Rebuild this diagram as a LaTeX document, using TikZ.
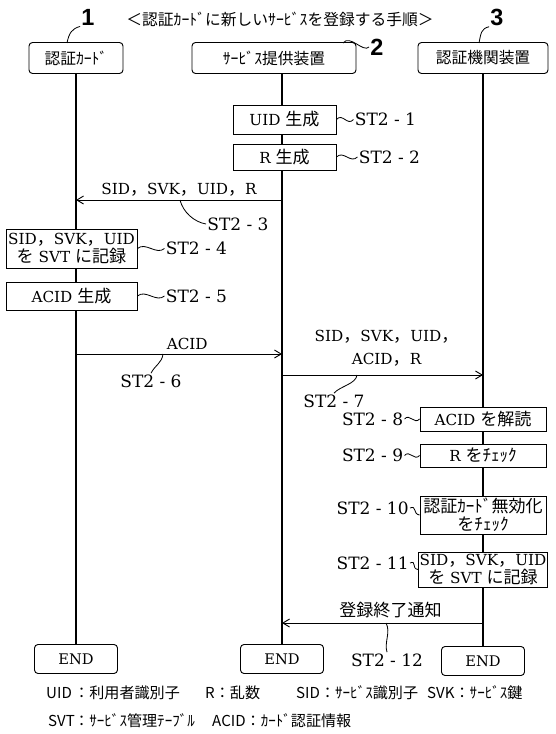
\documentclass[tikz,border=0pt]{standalone}
\usepackage{fontspec}
\setmainfont{DejaVu Serif}
\setsansfont{Liberation Sans}
\newfontfamily\jp[Scale=1.12]{Noto Sans CJK JP}
\usetikzlibrary{arrows.meta,positioning,backgrounds}
\newcommand{\J}[1]{{\jp #1}}

\begin{document}
\begin{tikzpicture}[x=0.03cm,y=-0.03cm,
  head/.style={draw,line width=0.8pt,rounded corners=3pt,fill=white,align=center,minimum height=0.93cm,inner sep=1pt,font=\fontsize{12}{14}\jp},
  stepbox/.style={draw,line width=0.8pt,fill=white,align=center,inner sep=1pt,font=\fontsize{13}{15}\selectfont},
  endbox/.style={draw,line width=0.8pt,rounded corners=3pt,fill=white,minimum width=2.49cm,minimum height=0.87cm,font=\fontsize{12.5}{14}\selectfont},
  st/.style={inner sep=1pt,font=\fontsize{14.5}{16}\selectfont},
  num/.style={inner sep=1pt,font=\fontsize{20}{20}\sffamily\bfseries},
  lbl/.style={inner sep=1pt,align=center,font=\fontsize{13}{16}\selectfont},
  leg/.style={inner sep=0pt,anchor=west,font=\fontsize{11.5}{13}\jp},
  life/.style={line width=1.2pt},
  msg/.style={-{Straight Barb[length=2mm,width=2.4mm]},line width=0.8pt},
  sq/.style={line width=0.7pt}]
\useasboundingbox (0,0) rectangle (555,734);
% title and device numbers
\node[font=\fontsize{12}{14}\jp] (title) at (280,19) {＜認証ｶｰﾄﾞに新しいｻｰﾋﾞｽを登録する手順＞};
\node[num] (n1) at (88,17) {1};
\node[num] (n2) at (377,47) {2};
\node[num] (n3) at (497,17) {3};
% lifeline heads
\node[head,minimum width=2.82cm] (card) at (76,58) {認証ｶｰﾄﾞ};
\node[head,minimum width=4.92cm] (svc) at (274,58) {ｻｰﾋﾞｽ提供装置};
\node[head,minimum width=3.9cm] (auth) at (483,58) {認証機関装置};
\coordinate (t1) at (67,43); \coordinate (t2) at (343,43); \coordinate (t3) at (479,43);
\draw[sq] (n1.south west) .. controls +(-8,2) and +(2,-10) .. (t1);
\draw[sq] (t2) .. controls +(7,-9) and +(-6,6) .. (n2.west);
\draw[sq] (n3.south west) .. controls +(-8,2) and +(2,-10) .. (t3);
% steps
\node[stepbox,minimum width=3.09cm,minimum height=0.87cm] (a1) at (284.5,119.5) {UID \J{生成}};
\node[stepbox,minimum width=3.09cm,minimum height=0.78cm] (a2) at (284.5,157) {R \J{生成}};
\node[stepbox,minimum width=3.93cm,minimum height=1.17cm] (c4) at (71.5,248.5) {SID\J{，}SVK\J{，}UID\\\J{を} SVT \J{に記録}};
\node[stepbox,minimum width=3.93cm,minimum height=0.84cm] (c5) at (71.5,296) {ACID \J{生成}};
\node[stepbox,minimum width=3.78cm,minimum height=0.72cm] (b8) at (483,419) {ACID \J{を解読}};
\node[stepbox,minimum width=3.78cm,minimum height=0.69cm] (b9) at (483,455.5) {R \J{をﾁｪｯｸ}};
\node[stepbox,minimum width=3.78cm,minimum height=1.14cm] (b10) at (483,515) {\J{認証ｶｰﾄﾞ無効化}\\\J{をﾁｪｯｸ}};
\node[stepbox,minimum width=3.78cm,minimum height=1.05cm] (b11) at (483,569.5) {SID\J{，}SVK\J{，}UID\\\J{を} SVT \J{に記録}};
\node[endbox] (e1) at (76,659) {END};
\node[endbox] (e2) at (282,659) {END};
\node[endbox] (e3) at (483,661) {END};
\begin{scope}[on background layer]
\draw[life] (card) -- (e1);
\draw[life] (svc.south -| e2) -- (e2);
\draw[life] (auth) -- (e3);
\end{scope}
% messages
\coordinate (m3a) at (282,200); \coordinate (m3b) at (76,200); \coordinate (k3) at (180,200);
\coordinate (m6a) at (76,354); \coordinate (m6b) at (282,354); \coordinate (k6) at (163,354);
\coordinate (m7a) at (282,375); \coordinate (m7b) at (483,375); \coordinate (k7) at (357,375);
\coordinate (m12a) at (483,623); \coordinate (m12b) at (282,623); \coordinate (k12) at (386,623);
\draw[msg] (m3a) -- node[lbl,above=2pt] {SID\J{，}SVK\J{，}UID\J{，}R} (m3b);
\draw[msg] (m6a) -- node[lbl,above=2pt,pos=0.54] {ACID} (m6b);
\draw[msg] (m7a) -- node[lbl,above=6pt,pos=0.52,font=\fontsize{13}{20}\selectfont] {SID\J{，}SVK\J{，}UID\J{，}\\ACID\J{，}R} (m7b);
\draw[msg] (m12a) -- node[lbl,above=3pt,pos=0.46] {\J{登録終了通知}} (m12b);
% step labels
\node[st,right=0.51cm of a1] (s1) {ST2 - 1};
\node[st,right=0.63cm of a2] (s2) {ST2 - 2};
\node[st,anchor=west] (s3) at (206,224) {ST2 - 3};
\node[st,right=0.81cm of c4] (s4) {ST2 - 4};
\node[st,right=0.81cm of c5] (s5) {ST2 - 5};
\node[st] (s6) at (151,381) {ST2 - 6};
\node[st] (s7) at (334,401) {ST2 - 7};
\node[st,left=0.45cm of b8] (s8) {ST2 - 8};
\node[st,left=0.45cm of b9] (s9) {ST2 - 9};
\node[st,anchor=east] (s10) at (410,508) {ST2 - 10};
\node[st,anchor=east] (s11) at (410,563) {ST2 - 11};
\node[st] (s12) at (387,660) {ST2 - 12};
\draw[sq] (a1.east) .. controls +(6,-7) and +(-6,7) .. (s1.west);
\draw[sq] (a2.east) .. controls +(7,-7) and +(-7,7) .. (s2.west);
\draw[sq] (k3) .. controls +(3,12) and +(-12,-2) .. (s3.west);
\draw[sq] (c4.east) .. controls +(8,-7) and +(-8,7) .. (s4.west);
\draw[sq] (c5.east) .. controls +(8,-7) and +(-8,7) .. (s5.west);
\draw[sq] (k6) .. controls +(-1,9) and +(4,-8) .. (s6.north);
\draw[sq] (k7) .. controls +(-1,9) and +(6,-7) .. (s7.north);
\draw[sq] (s8.east) .. controls +(5,-6) and +(-5,6) .. (b8.west);
\draw[sq] (s9.east) .. controls +(5,-6) and +(-5,6) .. (b9.west);
\draw[sq] (s10.east) .. controls +(7,-3) and +(-7,-1) .. (b10.west);
\draw[sq] (s11.east) .. controls +(7,-3) and +(-7,-1) .. (b11.west);
\draw[sq] (k12) .. controls +(5,9) and +(-3,-10) .. (s12.north);
% legend
\node[leg] (g1) at (46,693) {UID};
\node[leg] (g2) at (74,693) {：利用者識別子};
\node[leg] (g3) at (205,693) {R：乱数};
\node[leg] (g4) at (296,693) {SID：ｻｰﾋﾞｽ識別子};
\node[leg] (g5) at (427,693) {SVK：ｻｰﾋﾞｽ鍵};
\node[leg] (g6) at (48,721) {SVT};
\node[leg] (g7) at (74,721) {：ｻｰﾋﾞｽ管理ﾃｰﾌﾞﾙ};
\node[leg] (g8) at (212,721) {ACID：ｶｰﾄﾞ認証情報};
\end{tikzpicture}
\end{document}
